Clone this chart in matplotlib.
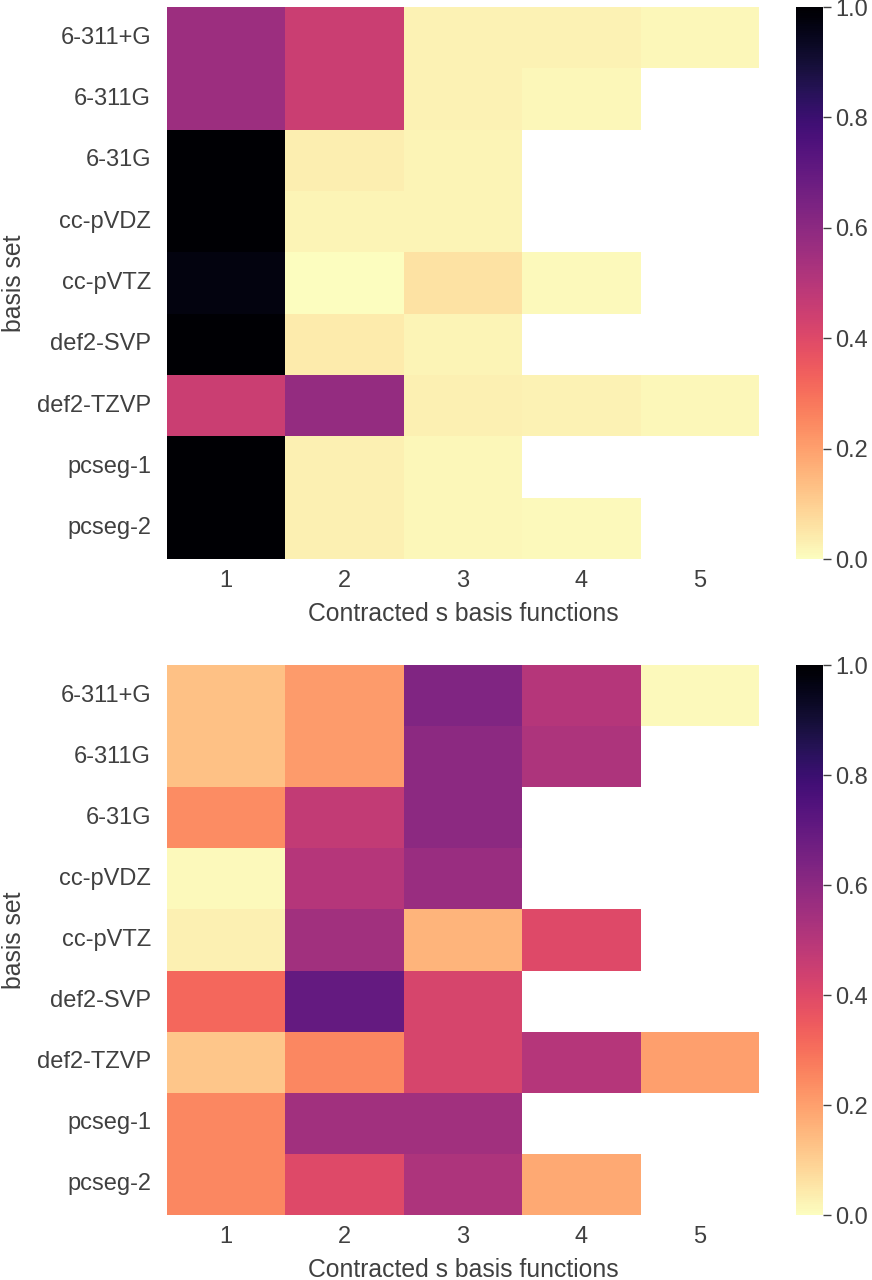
import numpy as np
import pandas as pd
import matplotlib
matplotlib.use("Agg")
import matplotlib.pyplot as plt
import seaborn as sns

basis_sets = ["6-311+G", "6-311G", "6-31G", "cc-pVDZ", "cc-pVTZ",
              "def2-SVP", "def2-TZVP", "pcseg-1", "pcseg-2"]
n_contracted = [1, 2, 3, 4, 5]
nan = np.nan

# upper panel
top_values = [
    [0.56, 0.45, 0.025, 0.025, 0.015],
    [0.56, 0.45, 0.025, 0.015, nan],
    [1.00, 0.035, 0.02, nan, nan],
    [1.00, 0.02, 0.02, nan, nan],
    [0.97, 0.003, 0.06, 0.01, nan],
    [1.00, 0.04, 0.02, nan, nan],
    [0.45, 0.58, 0.03, 0.025, 0.015],
    [1.00, 0.03, 0.015, nan, nan],
    [1.00, 0.03, 0.015, 0.01, nan],
]

# lower panel
bottom_values = [
    [0.13, 0.21, 0.63, 0.50, 0.01],
    [0.13, 0.21, 0.60, 0.52, nan],
    [0.24, 0.47, 0.60, nan, nan],
    [0.01, 0.50, 0.57, nan, nan],
    [0.03, 0.55, 0.16, 0.40, nan],
    [0.32, 0.70, 0.42, nan, nan],
    [0.12, 0.25, 0.42, 0.50, 0.20],
    [0.25, 0.55, 0.55, nan, nan],
    [0.25, 0.40, 0.52, 0.18, nan],
]

text_col = "0.25"
plt.rcParams["font.family"] = ["Liberation Sans", "DejaVu Sans"]

fig = plt.figure(figsize=(8.72, 12.8), dpi=100)

W, H = 872.0, 1280.0
panels = [(top_values, 7, 559), (bottom_values, 665, 1215)]

for values, y0, y1 in panels:
    ax = fig.add_axes([167 / W, 1 - y1 / H, (759 - 167) / W, (y1 - y0) / H])
    cax = fig.add_axes([796 / W, 1 - y1 / H, 27 / W, (y1 - y0) / H])
    df = pd.DataFrame(values, index=basis_sets, columns=n_contracted)
    sns.heatmap(df, ax=ax, cbar_ax=cax, cmap="magma_r", vmin=0, vmax=1)
    ax.set_xlabel("Contracted s basis functions", fontsize=17.8, color=text_col, labelpad=7)
    ax.set_ylabel("basis set", fontsize=17.8, color=text_col, labelpad=8)
    ax.tick_params(axis="x", length=0, pad=8, labelsize=17, labelcolor=text_col)
    ax.tick_params(axis="y", length=0, pad=11.5, labelsize=17, labelcolor=text_col, rotation=0)
    cax.set_yticks([0.0, 0.2, 0.4, 0.6, 0.8, 1.0])
    cax.set_yticklabels(["0.0", "0.2", "0.4", "0.6", "0.8", "1.0"])
    cax.tick_params(length=6, width=1, color=text_col, pad=3, labelsize=17, labelcolor=text_col)

fig.savefig("out.png", dpi=100)
